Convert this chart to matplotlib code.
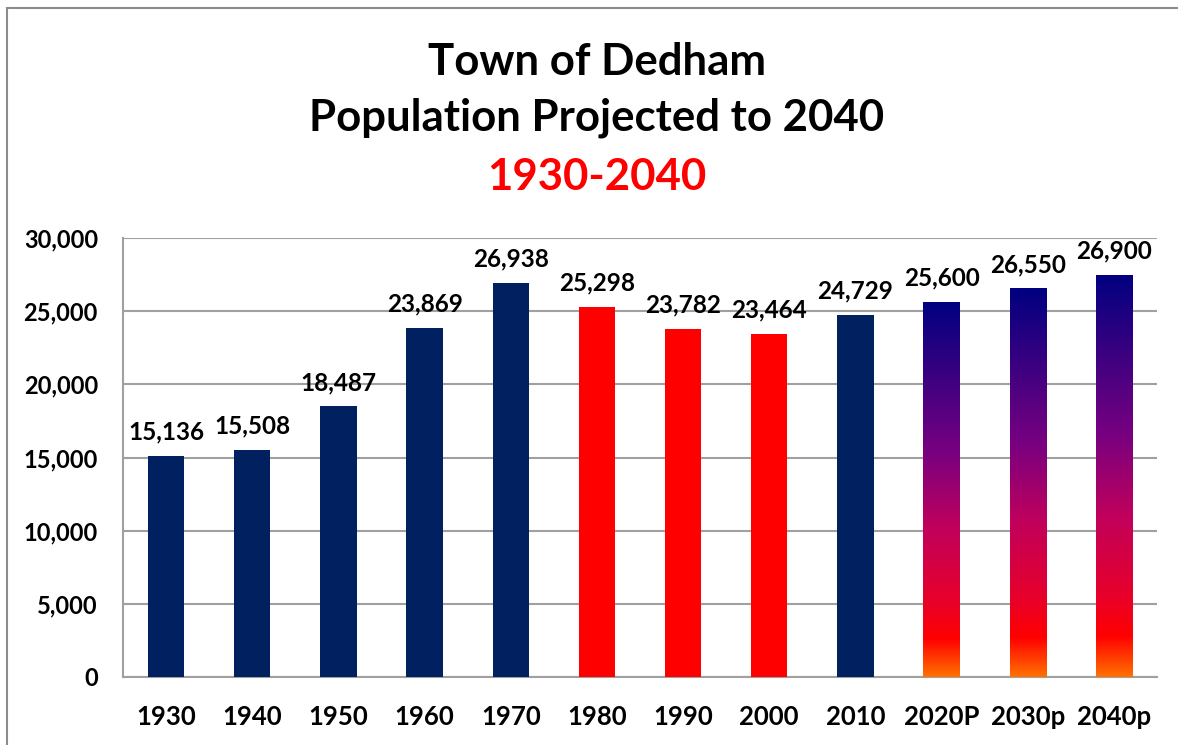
import numpy as np
import matplotlib.pyplot as plt
from matplotlib.colors import LinearSegmentedColormap
from matplotlib.patches import Rectangle

plt.rcParams['font.family'] = ['Lato', 'DejaVu Sans']
plt.rcParams['font.weight'] = 'bold'

years = ["1930", "1940", "1950", "1960", "1970", "1980", "1990", "2000", "2010",
         "2020P", "2030p", "2040p"]
# bar heights as drawn in the reference
population = [15136, 15508, 18487, 23869, 26938, 25298, 23782, 23464, 24729,
              25600, 26550, 27500]
# labels as printed in the reference (2040p label differs from drawn height)
value_labels = ["15,136", "15,508", "18,487", "23,869", "26,938", "25,298", "23,782",
                "23,464", "24,729", "25,600", "26,550", "26,900"]
kind = ["hist"] * 5 + ["decline"] * 3 + ["hist"] + ["proj"] * 3

NAVY = "#002060"
RED = "#FF0000"
grad = LinearSegmentedColormap.from_list(
    "proj", [(0.0, "#FF7000"), (0.1, "#FF0000"), (0.2, "#E8002A"),
             (0.4, "#C0005C"), (0.6, "#780080"), (1.0, "#000080")])

fig = plt.figure(figsize=(11.78, 7.45), dpi=100)
fig.patches.append(Rectangle((7 / 1178, -0.1), 1.2, (745 - 8) / 745 + 0.1,
                             transform=fig.transFigure, fill=False,
                             edgecolor="#8C8C8C", linewidth=1.5))
ax = fig.add_axes([123 / 1178, 68 / 745, 1034 / 1178, 439 / 745])

x = np.arange(len(years))
width = 0.42
colors = [NAVY if k == "hist" else RED for k in kind]
bars = ax.bar(x, population, width, color=colors, zorder=3)

gvals = np.linspace(0, 1, 256).reshape(-1, 1)
for b, k in zip(bars, kind):
    if k != "proj":
        continue
    b.set_facecolor("none")
    x0, y0 = b.get_x(), b.get_y()
    im = ax.imshow(gvals, cmap=grad, origin="lower", aspect="auto",
                   extent=(x0, x0 + b.get_width(), y0, y0 + b.get_height()),
                   zorder=3)
    im.set_clip_path(b)

for b, lab in zip(bars, value_labels):
    ax.annotate(lab, (b.get_x() + b.get_width() / 2, b.get_height()),
                xytext=(0, 9), textcoords="offset points", ha="center", va="bottom",
                fontsize=17.5, fontweight="bold", color="black")

ax.set_xlim(-0.5, len(years) - 0.5)
ax.set_ylim(0, 30000)
ax.set_yticks(range(0, 30001, 5000))
ax.set_yticklabels([f"{v:,}" for v in range(0, 30001, 5000)])
ax.set_xticks(x)
ax.set_xticklabels(years)
ax.tick_params(axis="both", length=0)
ax.tick_params(axis="y", pad=18, labelsize=17)
ax.tick_params(axis="x", pad=20, labelsize=18.5)
for lab in ax.get_xticklabels() + ax.get_yticklabels():
    lab.set_fontweight("bold")

ax.grid(axis="y", color="#A0A0A0", linewidth=1.5, zorder=0)
for s in ["top", "right"]:
    ax.spines[s].set_visible(False)
for s in ["left", "bottom"]:
    ax.spines[s].set_color("#A0A0A0")
    ax.spines[s].set_linewidth(1.5)

fig.text(597 / 1178, 1 - 62 / 745, "Town of Dedham", ha="center", va="center",
         fontsize=31.5, fontweight="bold")
fig.text(597 / 1178, 1 - 118 / 745, "Population Projected to 2040", ha="center",
         va="center", fontsize=31.5, fontweight="bold")
fig.text(597 / 1178, 1 - 177 / 745, "1930-2040", ha="center", va="center",
         fontsize=31.5, fontweight="bold", color=RED)

fig.savefig("out.png", dpi=100)
